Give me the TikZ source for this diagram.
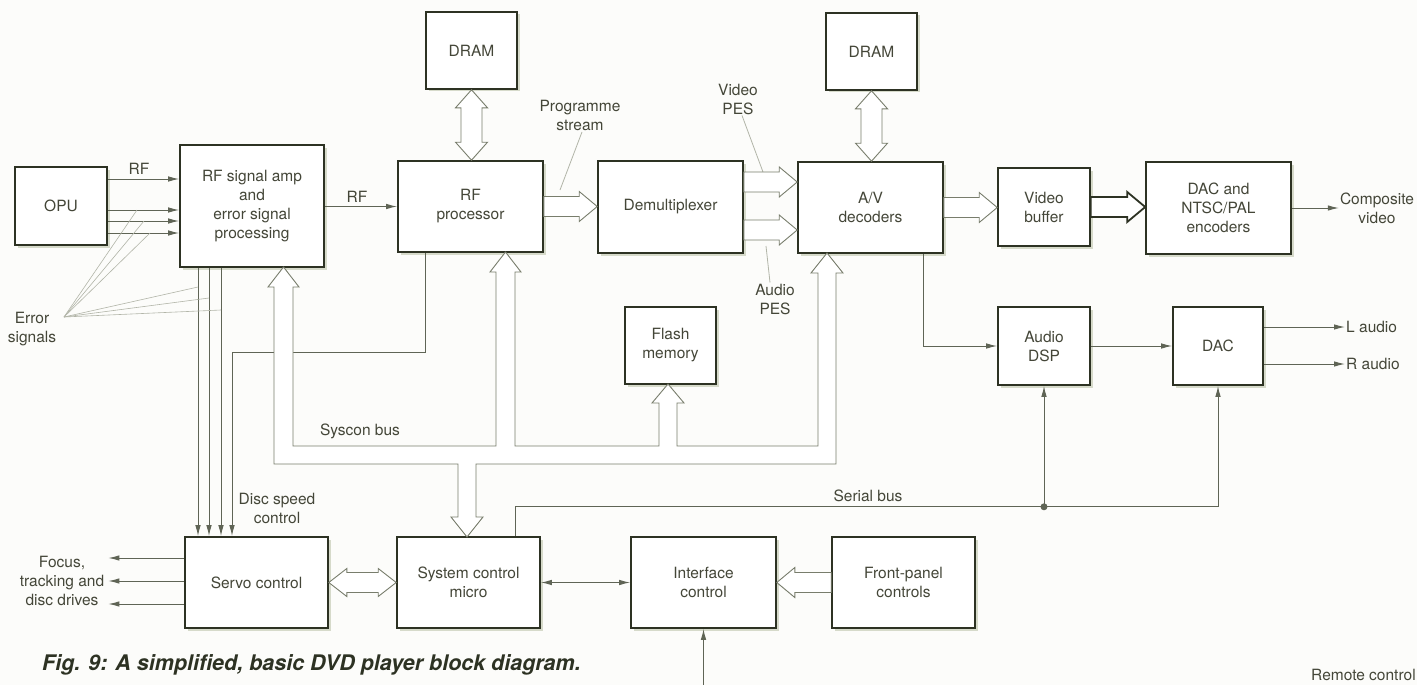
\documentclass[tikz,border=0pt]{standalone}
\usepackage{fontspec}
\setmainfont{TeX Gyre Heros}
\usetikzlibrary{arrows.meta,calc,shadows}

\definecolor{ink}{RGB}{45,50,35}
\definecolor{wire}{RGB}{95,100,85}
\definecolor{txt}{RGB}{68,70,56}
\definecolor{busc}{RGB}{120,125,108}
\definecolor{faint}{RGB}{178,181,168}
\definecolor{paper}{RGB}{252,252,250}
\definecolor{shade}{RGB}{205,210,190}

\newcommand{\lbl}{\fontsize{15.5}{19}\selectfont}

% fat hollow arrows: right, left, double horizontal, double vertical
\newcommand{\fatR}[3][]{\draw[hollow,#1] let \p1=(#2), \p2=(#3) in
  (\x1,\y1+10pt) -- (\x2-18pt,\y1+10pt) -- (\x2-18pt,\y1+15pt) -- (\x2,\y1)
  -- (\x2-18pt,\y1-15pt) -- (\x2-18pt,\y1-10pt) -- (\x1,\y1-10pt) -- cycle;}
\newcommand{\fatL}[3][]{\draw[hollow,#1] let \p1=(#2), \p2=(#3) in
  (\x1,\y1+10pt) -- (\x2+18pt,\y1+10pt) -- (\x2+18pt,\y1+15pt) -- (\x2,\y1)
  -- (\x2+18pt,\y1-15pt) -- (\x2+18pt,\y1-10pt) -- (\x1,\y1-10pt) -- cycle;}
\newcommand{\fatLR}[3][]{\draw[hollow,#1] let \p1=(#2), \p2=(#3) in
  (\x1,\y1) -- (\x1+18pt,\y1+14pt) -- (\x1+18pt,\y1+10pt) -- (\x2-18pt,\y1+10pt)
  -- (\x2-18pt,\y1+14pt) -- (\x2,\y1) -- (\x2-18pt,\y1-14pt) -- (\x2-18pt,\y1-10pt)
  -- (\x1+18pt,\y1-10pt) -- (\x1+18pt,\y1-14pt) -- cycle;}
\newcommand{\fatUD}[3][]{\draw[hollow,#1] let \p1=(#2), \p2=(#3) in
  (\x1,\y1) -- (\x1+16pt,\y1-18pt) -- (\x1+10.5pt,\y1-18pt) -- (\x1+10.5pt,\y2+18pt)
  -- (\x1+16pt,\y2+18pt) -- (\x1,\y2) -- (\x1-16pt,\y2+18pt) -- (\x1-10.5pt,\y2+18pt)
  -- (\x1-10.5pt,\y1-18pt) -- (\x1-16pt,\y1-18pt) -- cycle;}

\tikzset{
  blk/.style={draw=ink, line width=1.6pt, fill=white, text=txt, align=center, inner sep=0pt,
    drop shadow={shadow xshift=2.5pt, shadow yshift=-2.5pt, fill=shade, opacity=0.8}},
  bigblk/.style={blk, minimum width=145pt, minimum height=91pt},
  smallblk/.style={blk, minimum width=91pt, minimum height=78pt},
  sig/.style={draw=wire, line width=1pt, -{Latex[length=11pt,width=5.5pt]}},
  sigboth/.style={draw=wire, line width=1pt, {Latex[length=11pt,width=5.5pt]}-{Latex[length=11pt,width=5.5pt]}},
  lead/.style={draw=faint, line width=0.8pt},
  hollow/.style={draw=busc, line width=0.9pt, fill=white, line join=miter},
  lab/.style={text=txt, align=center, inner sep=1pt}
}

\begin{document}
\begin{tikzpicture}[x=1pt, y=-1pt, font=\lbl]
    \fill[paper] (0,0) rectangle (1417,685);
    \useasboundingbox (0,0) rectangle (1417,685);

    % blocks
    \node[smallblk, minimum width=92pt] (opu) at (61,206) {OPU};
    \node[blk, minimum width=144pt, minimum height=122pt] (rfamp) at (252,206) {RF signal amp\\and\\error signal\\processing};
    \node[smallblk, minimum height=77pt] (dram1) at (471.5,50.5) {DRAM};
    \node[bigblk] (rfp) at (470.5,206.5) {RF\\processor};
    \node[bigblk, minimum height=92pt] (demux) at (670.5,207) {Demultiplexer};
    \node[smallblk, minimum height=77pt] (dram2) at (871.5,51.5) {DRAM};
    \node[bigblk] (avdec) at (870.5,207.5) {A/V\\decoders};
    \node[smallblk, minimum width=92pt] (vbuf) at (1044,207) {Video\\buffer};
    \node[bigblk, minimum height=92pt] (dacenc) at (1218.5,208) {DAC and\\NTSC/PAL\\encoders};
    \node[smallblk, minimum width=92pt] (adsp) at (1044,346) {Audio\\DSP};
    \node[smallblk, minimum width=90pt] (dac) at (1218,346) {DAC};
    \node[smallblk, minimum height=77pt] (flash) at (670.5,345.5) {Flash\\memory};
    \node[bigblk, minimum width=143pt] (servo) at (256.5,582.5) {Servo control};
    \node[bigblk, minimum width=143pt] (sysmicro) at (468.5,582.5) {System control\\micro};
    \node[bigblk] (iface) at (703.5,582.5) {Interface\\control};
    \node[bigblk, minimum width=143pt] (fpanel) at (903.5,582.5) {Front-panel\\controls};

    % labels
    \node[lab] (rf1) at (139,169) {RF};
    \node[lab] (rf2) at (357,197) {RF};
    \node[lab] (prog) at (580,115.5) {Programme\\stream};
    \node[lab] (vpes) at (738,99) {Video\\PES};
    \node[lab] (apes) at (775,299) {Audio\\PES};
    \node[lab] (errsig) at (32,329) {Error\\signals};
    \node[lab] (compv) at (1377,208) {Composite\\video};
    \node[lab, anchor=west] (laud) at (1345,327) {L audio};
    \node[lab, anchor=west] (raud) at (1345,364) {R audio};
    \node[lab] (syscon) at (360,431) {Syscon bus};
    \node[lab] (discsp) at (277,508.5) {Disc speed\\control};
    \node[lab] (serbus) at (868,496) {Serial bus};
    \node[lab, inner sep=4pt] (drives) at (62,581) {Focus,\\tracking and\\disc drives};
    \node[lab, anchor=west] (remote) at (1310,675) {Remote control};
    \node[anchor=west, inner sep=0pt, text=ink, font=\fontsize{21.5}{24}\selectfont\bfseries\itshape] (caption) at (42,665) {Fig. 9: A simplified, basic DVD player block diagram.};

    % free ends
    \coordinate (errfan) at (64,317);
    \coordinate (progtip) at (560,190);
    \coordinate (vpestip) at (763,172);
    \coordinate (apestip) at (766,246);
    \coordinate (dsc) at (232,352);
    \coordinate (rcin) at (703.5,685);
    \path (adsp.south) ++(0,121) coordinate (sbj);

    % thin signal lines
    \foreach \dy in {27,-4,-15,-27}
      \draw[sig] ([yshift=\dy pt]opu.east) -- ([yshift=\dy pt]rfamp.west);
    \draw[sig] (rfamp.east |- rfp.west) -- (rfp.west);
    \foreach \dx in {-54,-43,-31}
      \draw[sig] ([xshift=\dx pt]rfamp.south) -- ([xshift=\dx pt]rfamp.south |- servo.north);
    \draw[sig] ([xshift=-45.5pt]rfp.south) |- (dsc) -- (dsc |- servo.north);
    \foreach \dy in {24.5,1.5,-21.5}
      \draw[sig] ([yshift=\dy pt]servo.west) -- ([yshift=\dy pt]servo.west -| drives.east);
    \draw[sigboth] (sysmicro.east) -- (iface.west);
    \draw[sig] (rcin) -- (iface.south);
    \draw[sig] (dacenc.east) -- (compv.west);
    \draw[sig] ([xshift=52.5pt]avdec.south) |- (adsp.west);
    \draw[sig] (adsp.east) -- (dac.west);
    \draw[sig] (dac.east |- laud.west) -- (laud.west);
    \draw[sig] (dac.east |- raud.west) -- (raud.west);
    \draw[sig] ([xshift=46.5pt]sysmicro.north) |- (sbj) -| (dac.south);
    \draw[sig] (sbj) -- (adsp.south);
    \fill[wire] (sbj) circle (3.5pt);

    % leader lines
    \foreach \ex/\ey in {137/210, 144/221, 150/233, 198/287, 209/298, 221/310}
      \draw[lead, line width=0.6pt] (errfan) -- (\ex,\ey);
    \draw[lead] ([xshift=2pt]prog.south) -- (progtip);
    \draw[lead] ([xshift=4pt]vpes.south) -- (vpestip);
    \draw[lead] ([xshift=-5pt]apes.north) -- (apestip);

    % hollow data paths
    \fatUD{dram1.south}{rfp.north}
    \fatUD{dram2.south}{avdec.north}
    \fatR{rfp.east}{demux.west}
    \fatR{[yshift=25pt]demux.east}{[yshift=25pt]avdec.west}
    \fatR{[yshift=-23pt]demux.east}{[yshift=-23pt]avdec.west}
    \fatR{avdec.east}{vbuf.west}
    \fatR[draw=ink, line width=1.8pt]{vbuf.east}{dacenc.west}
    \fatLR{servo.east}{sysmicro.west}
    \fatL{fpanel.west}{iface.east}

    % syscon bus
    \draw[hollow] (274,287) -- (274,464) -- (458,464) -- (458,517) -- (451,517)
      -- (467,537) -- (483,517) -- (476,517) -- (476,464) -- (836,464) -- (836,273)
      -- (843,273) -- (827,253) -- (811,273) -- (818,273) -- (818,446) -- (677,446)
      -- (677,403) -- (684,403) -- (668,384) -- (652,403) -- (659,403) -- (659,446)
      -- (515,446) -- (515,272) -- (521,272) -- (505.5,252) -- (490,272) -- (496,272)
      -- (496,446) -- (293,446) -- (293,287) -- (299,287) -- (283.5,267) -- (268,287)
      -- cycle;
\end{tikzpicture}
\end{document}
